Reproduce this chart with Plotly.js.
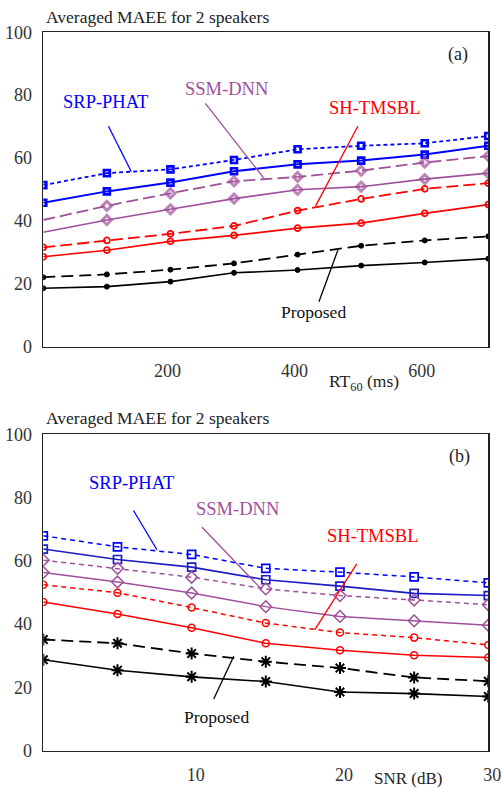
<!DOCTYPE html>
<html>
<head>
<meta charset="utf-8">
<script src="https://cdn.plot.ly/plotly-3.0.1.min.js"></script>
<style>html,body{margin:0;padding:0;background:#fff;}#chart{width:503px;height:789px;}</style>
</head>
<body>
<div id="chart"></div>
<script>
// ---- Data: panel (a), MAEE vs RT60 ----
const rt60 = [0, 100, 200, 300, 400, 500, 600, 700];
const a_srp_dash  = [51.4, 55.2, 56.4, 59.4, 62.8, 63.9, 64.7, 67.0];
const a_srp_solid = [45.8, 49.4, 52.2, 55.8, 58.0, 59.2, 61.1, 63.9];
const a_ssm_dash  = [40.3, 44.8, 48.8, 52.6, 54.0, 56.0, 58.6, 60.6];
const a_ssm_solid = [36.4, 40.3, 43.7, 47.1, 49.9, 50.9, 53.3, 55.2];
const a_sh_dash   = [31.6, 33.8, 35.9, 38.4, 43.3, 47.0, 50.2, 52.0];
const a_sh_solid  = [28.6, 30.7, 33.5, 35.4, 37.7, 39.3, 42.4, 45.2];
const a_prop_dash = [22.1, 23.0, 24.5, 26.5, 29.3, 32.1, 33.8, 35.1];
const a_prop_solid= [18.6, 19.1, 20.7, 23.5, 24.4, 25.8, 26.8, 28.0];

// ---- Data: panel (b), MAEE vs SNR ----
const snr = [0, 5, 10, 15, 20, 25, 30];
const b_srp_dash  = [67.9, 64.4, 62.0, 57.6, 56.4, 54.9, 53.0];
const b_srp_solid = [63.7, 60.4, 58.0, 54.0, 52.0, 49.7, 49.0];
const b_ssm_dash  = [60.2, 57.6, 54.8, 51.1, 49.0, 47.6, 46.1];
const b_ssm_solid = [56.3, 53.3, 49.8, 45.5, 42.4, 41.0, 39.6];
const b_sh_dash   = [52.4, 49.9, 45.2, 40.3, 37.3, 35.7, 33.4];
const b_sh_solid  = [47.0, 43.2, 38.8, 33.9, 31.7, 30.1, 29.4];
const b_prop_dash = [35.1, 33.9, 30.7, 28.1, 26.1, 23.1, 21.9];
const b_prop_solid= [28.7, 25.4, 23.3, 21.8, 18.5, 18.0, 17.1];

const yTicks = [0, 20, 40, 60, 80, 100];
const aTicks = [200, 400, 600];
const bTicks = [10, 20, 30];
const methodNames = ["SRP-PHAT", "SSM-DNN", "SH-TMSBL", "Proposed"];

const BLUE = "#0000ff", BLUE2 = "#1c1cc4", PURPLE = "#a0509a", RED = "#ff0000", BLACK = "#000000";
const FONT = "Liberation Serif";

function tr(x, y, xa, ya, color, dash, width, symbol, size, mlw, fill) {
  return {
    x: x, y: y, xaxis: xa, yaxis: ya, type: "scatter", mode: "lines+markers",
    line: {color: color, width: width, dash: dash},
    marker: {symbol: symbol, size: size, color: fill || color, line: {color: color, width: mlw}},
    showlegend: false, hoverinfo: "x+y"
  };
}
const noFirst = (n, s) => Array.from({length: n}, (_, i) => i === 0 ? 0 : s);

const data = [
  tr(rt60, a_srp_dash, "x", "y", BLUE, "4px,3px", 1.8, "square-open", 6, 2.6),
  tr(rt60, a_srp_solid, "x", "y", BLUE, "solid", 2, "square-open", 6, 2.6),
  tr(rt60, a_ssm_dash, "x", "y", PURPLE, "12px,5px", 1.8, "diamond-open", noFirst(8, 7), 3),
  tr(rt60, a_ssm_solid, "x", "y", PURPLE, "solid", 1.6, "diamond-open", noFirst(8, 7), 3),
  tr(rt60, a_sh_dash, "x", "y", RED, "12px,5px", 1.8, "circle-open", 6, 1.7),
  tr(rt60, a_sh_solid, "x", "y", RED, "solid", 1.6, "circle-open", 6, 1.7),
  tr(rt60, a_prop_dash, "x", "y", BLACK, "12px,6px", 1.8, "circle", 5, 1),
  tr(rt60, a_prop_solid, "x", "y", BLACK, "solid", 1.6, "circle", 5, 1),

  tr(snr, b_srp_dash, "x2", "y2", BLUE, "5px,4px", 1.5, "square-open", 8, 1.7),
  tr(snr, b_srp_solid, "x2", "y2", BLUE2, "solid", 1.6, "square-open", 8, 1.7),
  tr(snr, b_ssm_dash, "x2", "y2", PURPLE, "5px,4px", 1.5, "diamond-open", 9, 1.5),
  tr(snr, b_ssm_solid, "x2", "y2", PURPLE, "solid", 1.5, "diamond-open", 9, 1.5),
  tr(snr, b_sh_dash, "x2", "y2", RED, "5px,4px", 1.5, "circle-open", 7, 1.5),
  tr(snr, b_sh_solid, "x2", "y2", RED, "solid", 1.5, "circle-open", 7, 1.5),
  tr(snr, b_prop_dash, "x2", "y2", BLACK, "12px,6px", 1.8, "asterisk-open", 10, 2),
  tr(snr, b_prop_solid, "x2", "y2", BLACK, "solid", 1.6, "asterisk-open", 10, 2)
];

const W = 503, H = 789;
const xdom = [43.3 / W, 488.3 / W];
const ydomA = [1 - 346.7 / H, 1 - 32.3 / H];
const ydomB = [1 - 750.5 / H, 1 - 434.3 / H];

const axBase = {
  showgrid: false, zeroline: false, showline: true, mirror: true,
  linecolor: "#222", linewidth: 1.6, ticks: "",
  tickfont: {family: FONT, size: 18, color: "#333"}
};

function lab(text, x, y, xr, yr, color, size) {
  return {text: text, x: x, y: y, xref: xr, yref: yr, showarrow: false,
    font: {family: FONT, size: size || 18, color: color}, xanchor: "center", yanchor: "middle"};
}
function seg(x0, y0, x1, y1, xr, yr, color) {
  return {type: "line", x0: x0, y0: y0, x1: x1, y1: y1, xref: xr, yref: yr,
    line: {color: color, width: 1.3}};
}

const layout = {
  width: W, height: H, margin: {l: 0, r: 0, t: 0, b: 0},
  paper_bgcolor: "#fff", plot_bgcolor: "#fff",
  font: {family: FONT},
  xaxis: Object.assign({}, axBase, {domain: xdom, anchor: "y", range: [0, 700],
    tickvals: aTicks, ticktext: aTicks.map(String), ticklabelstandoff: 7, ticklabelshift: -3}),
  yaxis: Object.assign({}, axBase, {domain: ydomA, anchor: "x", range: [0, 100],
    tickvals: yTicks, ticktext: yTicks.map(String), ticklabelstandoff: 6}),
  xaxis2: Object.assign({}, axBase, {domain: xdom, anchor: "y2", range: [0, 30],
    tickvals: bTicks, ticktext: bTicks.map(String), ticklabelstandoff: 7, ticklabelshift: 4}),
  yaxis2: Object.assign({}, axBase, {domain: ydomB, anchor: "x2", range: [0, 100],
    tickvals: yTicks, ticktext: yTicks.map(String), ticklabelstandoff: 6}),
  annotations: [
    Object.assign(lab("Averaged MAEE for 2 speakers", 44 / W, 1 - 16.7 / H, "paper", "paper", "#222", 17.5), {xanchor: "left"}),
    Object.assign(lab("Averaged MAEE for 2 speakers", 44 / W, 1 - 418.3 / H, "paper", "paper", "#222", 17.5), {xanchor: "left"}),
    lab("RT<sub>60</sub> (ms)", 364 / W, 1 - 382 / H, "paper", "paper", "#222", 17.5),
    lab("SNR (dB)", 408 / W, 1 - 778 / H, "paper", "paper", "#222", 17),
    lab("(a)", 651.8, 92.8, "x", "y", "#222", 18),
    lab("(b)", 28.04, 93.1, "x2", "y2", "#222", 18),
    lab(methodNames[0], 97.3, 77.9, "x", "y", BLUE, 18.5),
    lab(methodNames[1], 287.7, 81.9, "x", "y", PURPLE, 18.5),
    lab(methodNames[2], 521.4, 75.8, "x", "y", RED, 18.5),
    lab(methodNames[3], 425.7, 11.1, "x", "y", "#111", 17.5),
    lab(methodNames[0], 5.97, 84.5, "x2", "y2", BLUE, 18.5),
    lab(methodNames[1], 13.07, 76.3, "x2", "y2", PURPLE, 18.5),
    lab(methodNames[2], 22.24, 67.7, "x2", "y2", RED, 18.5),
    lab(methodNames[3], 11.67, 10.6, "x2", "y2", "#111", 17.5)
  ],
  shapes: [
    seg(102.5, 70.1, 138.3, 55.7, "x", "y", BLUE),
    seg(254.9, 77.4, 346.8, 53.6, "x", "y", PURPLE),
    seg(495.0, 70.2, 428.4, 44.8, "x", "y", RED),
    seg(433.6, 14.3, 463.5, 30.8, "x", "y", BLACK),
    seg(6.08, 75.9, 7.66, 63.5, "x2", "y2", BLUE),
    seg(10.70, 70.6, 14.69, 51.1, "x2", "y2", PURPLE),
    seg(21.13, 59.0, 18.31, 38.2, "x2", "y2", RED),
    seg(11.49, 16.3, 12.84, 29.8, "x2", "y2", BLACK)
  ]
};

Plotly.newPlot("chart", data, layout, {displayModeBar: false, staticPlot: true});
</script>
</body>
</html>
